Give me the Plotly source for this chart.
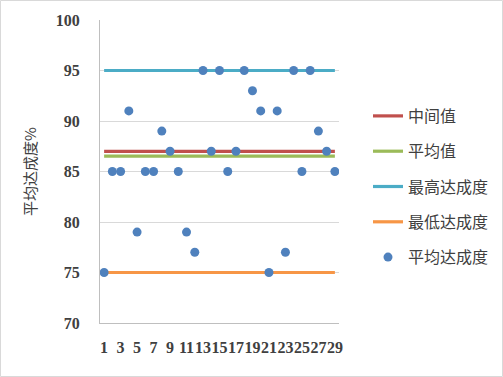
import plotly.graph_objects as go

x_vals = list(range(1, 30))
avg_achieve = [75, 85, 85, 91, 79, 85, 85, 89, 87, 85, 79, 77, 95, 87, 95,
               85, 87, 95, 93, 91, 75, 91, 77, 95, 85, 95, 89, 87, 85]
median_line = [87] * 29
mean_line = [86.52] * 29
max_line = [95] * 29
min_line = [75] * 29
tick_vals = list(range(1, 30, 2))
tick_text = [str(v) for v in tick_vals]

fig = go.Figure()
series = [
    ("中间值", median_line, "#C0504D"),
    ("平均值", mean_line, "#9BBB59"),
    ("最高达成度", max_line, "#4BACC6"),
    ("最低达成度", min_line, "#F79646"),
]
for i, (name, ys, col) in enumerate(series):
    fig.add_trace(go.Scatter(x=x_vals, y=ys, mode="lines", name=name,
                             line=dict(color=col, width=3.2),
                             legendgroup=f"g{i}"))
fig.add_trace(go.Scatter(x=x_vals, y=avg_achieve, mode="markers", name="平均达成度",
                         marker=dict(color="#4F81BD", size=9),
                         legendgroup="g4"))

fig.update_layout(
    width=503, height=377,
    margin=dict(l=100, r=164, t=20, b=54, autoexpand=False),
    paper_bgcolor="white", plot_bgcolor="white",
    showlegend=True,
    legend=dict(xref="container", yref="container", x=368 / 503, y=1 - 99 / 377,
                xanchor="left", yanchor="top",
                traceorder="grouped", tracegroupgap=11.5,
                font=dict(family="Noto Sans CJK SC", size=16, color="#404040"),
                bgcolor="rgba(0,0,0,0)"),
    xaxis=dict(range=[0.5, 29.5], tickmode="array", tickvals=tick_vals, ticktext=tick_text,
               tickangle=0, showgrid=False, zeroline=False,
               showline=True, linecolor="#BFBFBF", linewidth=1,
               ticks="", ticklabelstandoff=10,
               tickfont=dict(family="Liberation Serif", size=16, color="#404040", weight="bold")),
    yaxis=dict(range=[70, 100], tickmode="array", tickvals=[70, 75, 80, 85, 90, 95, 100],
               showgrid=True, gridcolor="#D9D9D9", gridwidth=1, zeroline=False,
               showline=True, linecolor="#BFBFBF", linewidth=1,
               ticks="", ticklabelstandoff=16,
               tickfont=dict(family="Liberation Serif", size=16, color="#404040", weight="bold"),
               title=dict(text="平均达成度%", standoff=15,
                          font=dict(family="Noto Sans CJK SC", size=15, color="#404040"))),
)
fig.add_shape(type="rect", xref="paper", yref="paper",
              x0=(0.5 - 100) / 239, x1=(502.5 - 100) / 239,
              y0=(323 - 376.5) / 303, y1=(323 - 0.5) / 303,
              line=dict(color="#D9D9D9", width=1), fillcolor="rgba(0,0,0,0)", layer="below")

fig.write_html("out.html", config={"displayModeBar": False},
               post_script="document.body.style.margin='0';document.body.style.overflow='hidden';")
